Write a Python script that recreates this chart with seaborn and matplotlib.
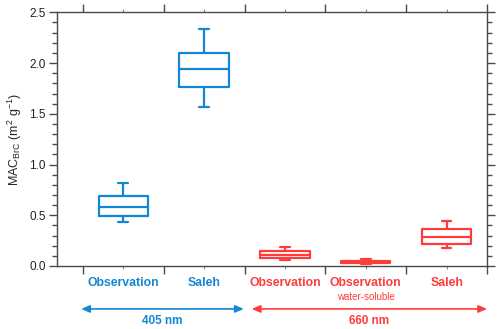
import numpy as np
import pandas as pd
import matplotlib
matplotlib.use("Agg")
import matplotlib.pyplot as plt
import matplotlib.transforms as mtransforms
import seaborn as sns

# Five-number summaries: whisker low, q1, median, q3, whisker high
categories = ["obs405", "saleh405", "obs660", "obsws660", "saleh660"]
cat_labels = ["Observation", "Saleh", "Observation", "Observation", "Saleh"]
bands = ["405 nm", "405 nm", "660 nm", "660 nm", "660 nm"]
obs405 = [0.437, 0.496, 0.585, 0.685, 0.817]
saleh405 = [1.571, 1.766, 1.944, 2.103, 2.338]
obs660 = [0.060, 0.076, 0.109, 0.146, 0.190]
obsws660 = [0.020, 0.026, 0.035, 0.048, 0.068]
saleh660 = [0.176, 0.221, 0.290, 0.360, 0.446]
yticks = [0.0, 0.5, 1.0, 1.5, 2.0, 2.5]

BLUE = "#1287d4"
RED = "#ff3b3b"
SPINE = "#4a4a4a"

rows = []
for cat, band, vals in zip(categories, bands, [obs405, saleh405, obs660, obsws660, saleh660]):
    for v in vals:
        rows.append({"cat": cat, "band": band, "val": v})
df = pd.DataFrame(rows)

sns.set_style("ticks")
plt.rcParams["font.family"] = ["Liberation Sans", "DejaVu Sans"]
plt.rcParams["mathtext.fontset"] = "custom"
plt.rcParams["mathtext.rm"] = "Liberation Sans"
plt.rcParams["mathtext.it"] = "Liberation Sans:italic"

fig = plt.figure(figsize=(5.0, 3.29), dpi=100)
ax = fig.add_axes([0.114, 0.1915, 0.86, 0.771])

sns.boxplot(data=df, x="cat", y="val", hue="band", order=categories,
            palette={"405 nm": BLUE, "660 nm": RED}, fill=False, dodge=False,
            whis=np.inf, width=0.61, linewidth=1.6, legend=False, ax=ax,
            capwidths=0.12)

ax.set_xlim(-0.82, 4.5)
ax.set_ylim(0, 2.5)
ax.set_yticks(yticks)
ax.set_yticklabels([f"{t:.1f}" for t in yticks], fontsize=8.5, color="#222222")
ax.yaxis.set_minor_locator(matplotlib.ticker.MultipleLocator(0.1))
ax.set_xticks([-0.5, 0.5, 1.5, 2.5, 3.5, 4.5])
ax.set_xticks([0, 1, 2, 3, 4], minor=True)
ax.set_xticklabels([])
ax.set_xlabel("")
ax.set_ylabel(r"MAC$_{\mathrm{BrC}}$ (m$^{2}$ g$^{-1}$)", fontsize=9, labelpad=4)

for side in ["left", "right", "top", "bottom"]:
    ax.spines[side].set_visible(True)
    ax.spines[side].set_color(SPINE)
    ax.spines[side].set_linewidth(1.0)
ax.tick_params(axis="both", which="major", direction="out", length=6, width=1.0,
               color=SPINE, top=True, right=True)
ax.tick_params(axis="y", which="minor", direction="out", length=3.5, width=1.0,
               color=SPINE, left=True, right=True)
ax.tick_params(axis="x", which="minor", direction="out", length=2, width=0.8,
               color="#888888", top=True, bottom=True)
ax.tick_params(axis="y", which="major", pad=2)

trans = mtransforms.blended_transform_factory(ax.transData, fig.transFigure)
colors = [BLUE, BLUE, RED, RED, RED]
for i, (lab, c) in enumerate(zip(cat_labels, colors)):
    ax.text(i, 0.140, lab, transform=trans, ha="center", va="center",
            fontsize=8.8, fontweight="bold", color=c)
ax.text(3, 0.097, "water-soluble", transform=trans, ha="center", va="center",
        fontsize=7, color=RED)

arrow_y = 0.061
ax.annotate("", xy=(-0.52, arrow_y), xytext=(1.49, arrow_y), xycoords=trans, textcoords=trans,
            arrowprops=dict(arrowstyle="<|-|>,head_length=0.5,head_width=0.22", color=BLUE,
                            lw=1.2, shrinkA=0, shrinkB=0), annotation_clip=False)
ax.annotate("", xy=(1.59, arrow_y), xytext=(4.5, arrow_y), xycoords=trans, textcoords=trans,
            arrowprops=dict(arrowstyle="<|-|>,head_length=0.5,head_width=0.22", color=RED,
                            lw=1.2, shrinkA=0, shrinkB=0), annotation_clip=False)
ax.text(0.5 * (-0.52 + 1.49), 0.025, "405 nm", transform=trans, ha="center", va="center",
        fontsize=8.5, fontweight="bold", color=BLUE)
ax.text(0.5 * (1.59 + 4.5), 0.025, "660 nm", transform=trans, ha="center", va="center",
        fontsize=8.5, fontweight="bold", color=RED)

fig.savefig("out.png", dpi=100)
